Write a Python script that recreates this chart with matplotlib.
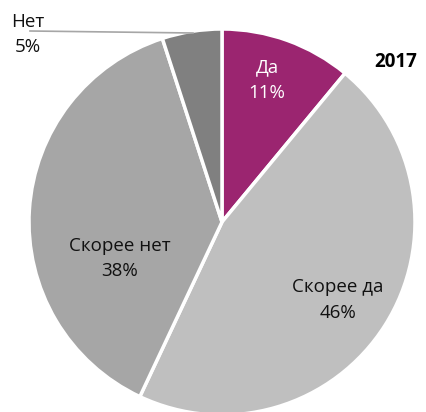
import matplotlib.pyplot as plt

labels = ["Да", "Скорее да", "Скорее нет", "Нет"]
shares = [11, 46, 38, 5]
colors = ["#9B2570", "#BFBFBF", "#A6A6A6", "#808080"]
year = "2017"

plt.rcParams['font.family'] = ['Open Sans', 'DejaVu Sans']

fig = plt.figure(figsize=(4.26, 4.12), dpi=100)
ax = fig.add_axes([0, 0, 1, 1])

# pie in pixel-like coordinates (y up)
cx, cy, r = 222, 412 - 222, 193
ax.pie(shares, colors=colors, startangle=90, counterclock=False,
       center=(cx, cy), radius=r,
       wedgeprops=dict(edgecolor="white", linewidth=2.5))
ax.set_xlim(0, 426)
ax.set_ylim(0, 412)
ax.set_aspect("equal")
ax.axis("off")

fs = 13.5
# inside labels
ax.text(267, 412 - 80, f"{labels[0]}\n{shares[0]}%", ha="center", va="center",
        color="white", fontsize=fs, linespacing=1.55)
ax.text(338, 412 - 300, f"{labels[1]}\n{shares[1]}%", ha="center", va="center",
        color="#111111", fontsize=fs, linespacing=1.5)
ax.text(120, 412 - 258, f"{labels[2]}\n{shares[2]}%", ha="center", va="center",
        color="#111111", fontsize=fs, linespacing=1.5)

# outside label with leader line
ax.plot([193, 30], [412 - 33, 412 - 31], color="#A6A6A6", lw=1.2)
ax.text(28, 412 - 34, f"{labels[3]}\n{shares[3]}%", ha="center", va="center",
        color="#111111", fontsize=fs, linespacing=1.5)

ax.text(396, 412 - 62, year, ha="center", va="center", fontsize=13.5,
        fontweight="bold", color="black")

fig.savefig("out.png", dpi=100)
